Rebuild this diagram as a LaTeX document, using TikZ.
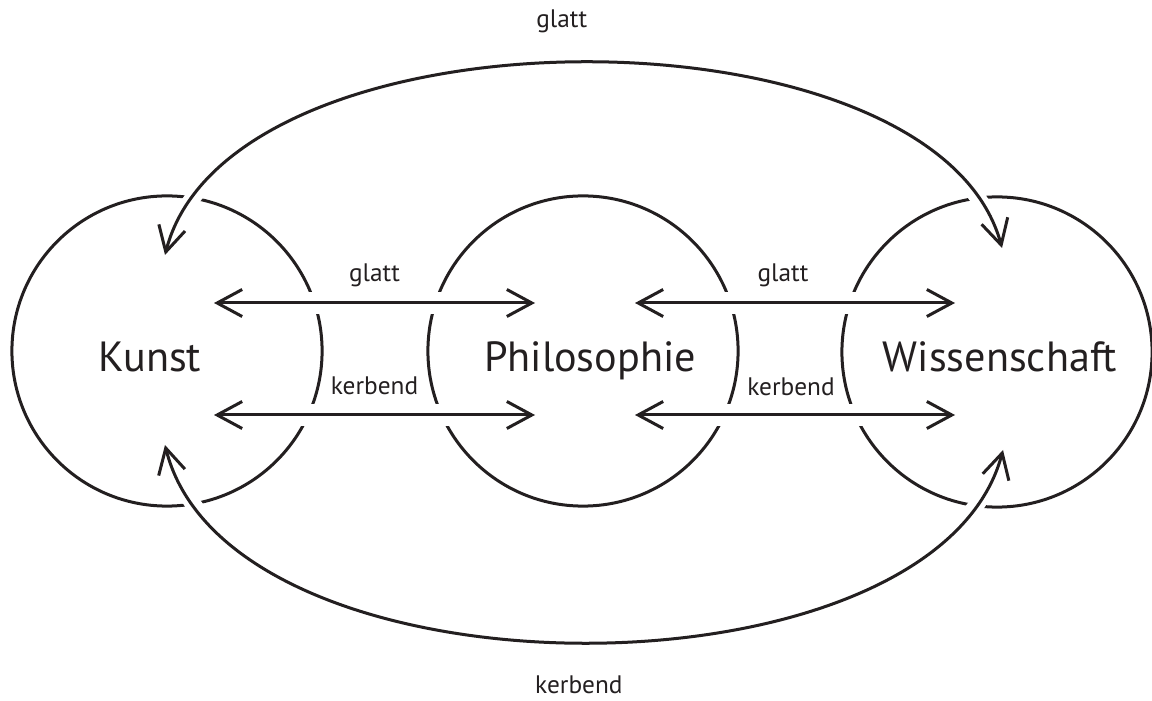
\documentclass[tikz,border=0pt]{standalone}
\usepackage{fontspec}
\setmainfont{PT Sans}
\usetikzlibrary{arrows.meta,positioning,calc}
\definecolor{ink}{HTML}{231F20}
\tikzset{
  ring/.style={draw=ink, circle, line width=0.03cm, minimum size=3.1cm, inner sep=0pt},
  bigtext/.style={font=\fontsize{12pt}{14pt}\selectfont, text=ink, anchor=base, inner sep=0pt},
  smalltext/.style={font=\fontsize{7.2pt}{9pt}\selectfont, text=ink, anchor=base, inner sep=0pt},
  arrow/.style={{Straight Barb[length=0.25cm,width=0.27cm]}-{Straight Barb[length=0.25cm,width=0.27cm]}, line width=0.03cm, draw=ink},
  whitegap/.style={preaction={draw=white, line width=#1, -}}
}

\begin{document}
\begin{tikzpicture}[x=0.01cm, y=0.01cm]
  \useasboundingbox (0,0) rectangle (1152,700);
  % the three fields
  \node[ring] (kunst) at (167,349) {};
  \node[ring] (philo) at (583,349) {};
  \node[ring] (wiss) at (997,348) {};
  \node[bigtext] (kunsttext) at (150,328) {Kunst};
  \node[bigtext] (philotext) at (590,328) {Philosophie};
  \node[bigtext] (wisstext) at (1000,328) {Wissenschaft};
  % arrow ends
  \coordinate (kg) at (214,397);
  \coordinate (kk) at (214,285);
  \coordinate (pgl) at (535,397);
  \coordinate (pkl) at (535,285);
  \coordinate (pgr) at (635,397);
  \coordinate (pkr) at (635,285);
  \coordinate (wg) at (955,397);
  \coordinate (wk) at (955,285);
  \coordinate (ktop) at (165,445);
  \coordinate (wtop) at (1002,452);
  \coordinate (kbot) at (165,255);
  \coordinate (wbot) at (1003,250);
  % straight arrows
  \draw[arrow, whitegap=0.22cm] (kg) -- node[smalltext, midway, yshift=0.21cm] {glatt} (pgl);
  \draw[arrow, whitegap=0.22cm] (kk) -- node[smalltext, midway, yshift=0.2cm] {kerbend} (pkl);
  \draw[arrow, whitegap=0.22cm] (pgr) -- node[smalltext, midway, xshift=-0.12cm, yshift=0.21cm] {glatt} (wg);
  \draw[arrow, whitegap=0.22cm] (pkr) -- node[smalltext, midway, xshift=-0.04cm, yshift=0.19cm] {kerbend} (wk);
  % curved arrows
  \draw[arrow, whitegap=0.16cm] (ktop) .. controls (230,700) and (935,700) .. node[smalltext, pos=0.5, xshift=-0.21cm, yshift=0.35cm] {glatt} (wtop);
  \draw[arrow, whitegap=0.16cm] (kbot) .. controls (230,-7) and (935,-7) .. node[smalltext, pos=0.5, xshift=-0.04cm, yshift=-0.51cm] {kerbend} (wbot);
\end{tikzpicture}
\end{document}
